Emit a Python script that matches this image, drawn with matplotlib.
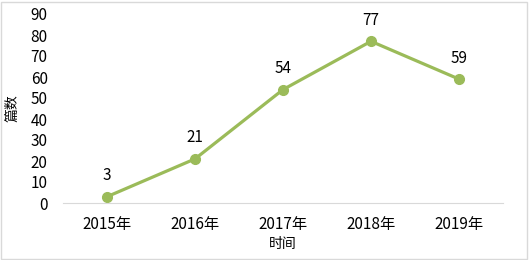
import matplotlib.pyplot as plt
from matplotlib.patches import Rectangle

plt.rcParams['font.family'] = ['Noto Sans CJK SC', 'DejaVu Sans']

years = ["2015年", "2016年", "2017年", "2018年", "2019年"]
counts = [3, 21, 54, 77, 59]

fig = plt.figure(figsize=(5.29, 2.60), dpi=100)
ax = fig.add_axes([63/529, 1 - 203/260, 440/529, 189/260])

x = range(len(years))
ax.plot(x, counts, color="#9BBB59", lw=2.3, marker="o", ms=7, solid_capstyle="round")
for xi, v in zip(x, counts):
    ax.annotate(str(v), (xi, v), xytext=(0, 9), textcoords="offset points",
                ha="center", va="bottom", fontsize=11, color="#000000")

ax.set_xlim(-0.5, len(years) - 0.5)
ax.set_ylim(0, 90)
ax.set_yticks(range(0, 91, 10))
ax.set_xticks(list(x))
ax.set_xticklabels(years)
ax.tick_params(axis="both", length=0, labelsize=11, colors="#000000")
ax.tick_params(axis="y", pad=11)
ax.tick_params(axis="x", pad=9)
for s in ["top", "right", "left"]:
    ax.spines[s].set_visible(False)
ax.spines["bottom"].set_color("#D9D9D9")
ax.spines["bottom"].set_linewidth(0.8)

ax.set_xlabel("时间", fontsize=10, labelpad=3)
ax.set_ylabel("篇数", fontsize=10, labelpad=8)

fig.patches.append(Rectangle((0.002, 0.004), 0.994, 0.99, transform=fig.transFigure,
                             fill=False, edgecolor="#D9D9D9", lw=1))

fig.savefig("out.png", dpi=100)
